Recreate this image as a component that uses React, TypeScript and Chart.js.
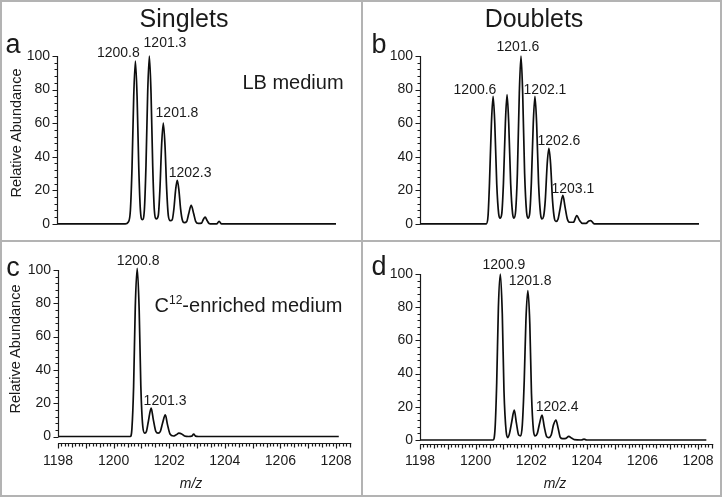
import React, { useEffect, useRef } from 'react';
import { Chart, registerables } from 'chart.js';

Chart.register(...registerables);

const FONT = "'Liberation Sans', Arial, Helvetica, sans-serif";

// ---------- data (m/z, relative abundance) ----------
// a: Singlets, LB medium
const aMz = [1198.0, 1200.45, 1200.55, 1200.63, 1200.69, 1200.75, 1200.81, 1200.87, 1200.93, 1200.99, 1201.06, 1201.13, 1201.19, 1201.25, 1201.31, 1201.37, 1201.43, 1201.49, 1201.56, 1201.63, 1201.69, 1201.75, 1201.81, 1201.87, 1201.93, 1201.99, 1202.06, 1202.13, 1202.19, 1202.25, 1202.31, 1202.37, 1202.43, 1202.49, 1202.56, 1202.65, 1202.72, 1202.81, 1202.9, 1202.97, 1203.06, 1203.18, 1203.24, 1203.31, 1203.38, 1203.45, 1203.55, 1203.72, 1203.81, 1203.9, 1208.0];
const aAb = [0, 0, 1, 8, 34, 76, 97, 76, 34, 8, 2.5, 8, 35, 78, 100, 78, 35, 8, 3, 5, 21, 47, 60, 47, 21, 5, 2, 2.5, 9, 20, 26, 20, 9, 2.5, 0.8, 1.5, 6, 11, 6, 1.5, 0.3, 0.5, 2.5, 4, 2, 0.3, 0, 0, 1.5, 0, 0];

// b: Doublets, LB medium
const bMz = [1198.0, 1200.38, 1200.44, 1200.49, 1200.56, 1200.62, 1200.68, 1200.75, 1200.82, 1200.87, 1200.93, 1200.99, 1201.06, 1201.12, 1201.18, 1201.25, 1201.32, 1201.37, 1201.43, 1201.49, 1201.56, 1201.62, 1201.68, 1201.75, 1201.82, 1201.87, 1201.93, 1201.99, 1202.06, 1202.12, 1202.18, 1202.25, 1202.32, 1202.37, 1202.43, 1202.49, 1202.56, 1202.62, 1202.68, 1202.75, 1202.82, 1202.87, 1202.95, 1203.02, 1203.12, 1203.2, 1203.28, 1203.37, 1203.5, 1203.62, 1203.72, 1203.82, 1203.95, 1204.05, 1204.12, 1204.22, 1204.3, 1208.0];
const bAb = [0, 0, 5, 24, 60, 76, 60, 24, 6, 3.5, 6, 24, 60, 77, 60, 24, 6, 3.5, 8, 30, 78, 100, 78, 30, 7, 3.5, 6, 24, 60, 76, 60, 24, 6, 3, 4.5, 14, 36, 45, 36, 14, 3, 1.5, 3, 9, 17, 10, 3, 1, 1, 5, 2, 0.3, 0.3, 1.8, 2, 0.3, 0, 0];

// c: Singlets, C12-enriched medium
const cMz = [1198.0, 1200.6, 1200.66, 1200.72, 1200.78, 1200.85, 1200.92, 1200.98, 1201.05, 1201.12, 1201.18, 1201.25, 1201.35, 1201.43, 1201.52, 1201.6, 1201.68, 1201.76, 1201.86, 1201.94, 1202.03, 1202.15, 1202.25, 1202.35, 1202.45, 1202.55, 1202.7, 1202.82, 1202.88, 1202.95, 1203.05, 1208.1];
const cAb = [0, 0, 5, 30, 78, 101, 76, 30, 6, 2, 3, 9, 17, 10, 3, 2, 3, 8, 13, 7, 1.5, 0.3, 1, 2, 1.5, 0.3, 0, 0.3, 1.5, 0.2, 0, 0];

// d: Doublets, C12-enriched medium
const dMz = [1198.0, 1200.63, 1200.7, 1200.76, 1200.82, 1200.89, 1200.96, 1201.02, 1201.1, 1201.16, 1201.22, 1201.3, 1201.39, 1201.47, 1201.55, 1201.62, 1201.68, 1201.75, 1201.81, 1201.88, 1201.95, 1202.01, 1202.08, 1202.14, 1202.22, 1202.3, 1202.39, 1202.47, 1202.56, 1202.63, 1202.72, 1202.8, 1202.89, 1202.97, 1203.05, 1203.13, 1203.25, 1203.35, 1203.45, 1203.55, 1203.8, 1203.9, 1204.0, 1208.3];
const dAb = [0, 0, 7, 35, 80, 100, 76, 30, 5, 1.5, 4, 11, 18, 10, 3, 2.5, 9, 36, 72, 90, 70, 28, 6, 2.5, 4, 10, 15, 8, 2, 1.5, 3, 9, 12, 7, 1.5, 0.8, 1, 2.2, 1.2, 0.2, 0, 0.5, 0, 0];

// ticks
const yTickValues = [0, 20, 40, 60, 80, 100];
const xTickValues = [1198, 1200, 1202, 1204, 1206, 1208];

// peak annotations (text, anchor m/z, anchor abundance)
const aLabelText = ['1200.8', '1201.3', '1201.8', '1202.3'];
const aLabelMz = [1200.2, 1201.87, 1202.3, 1202.77];
const aLabelAb = [101.8, 107.7, 66.1, 30.4];

const bLabelText = ['1200.6', '1201.6', '1202.1', '1202.6', '1203.1'];
const bLabelMz = [1199.97, 1201.51, 1202.48, 1202.98, 1203.48];
const bLabelAb = [79.9, 105.3, 79.9, 49.1, 20.7];

const cLabelText = ['1200.8', '1201.3'];
const cLabelMz = [1200.88, 1201.85];
const cLabelAb = [105.4, 21.3];

const dLabelText = ['1200.9', '1201.8', '1202.4'];
const dLabelMz = [1201.02, 1201.96, 1202.93];
const dLabelAb = [105.4, 95.8, 19.9];

// ---------- plugin: axes with minor ticks + peak labels ----------
const decorPlugin = {
  id: 'msDecor',
  afterDatasetsDraw(chart: any, _args: any, opts: any) {
    const { ctx, chartArea } = chart;
    const xs = chart.scales.x;
    const ys = chart.scales.y;
    ctx.save();
    ctx.strokeStyle = '#1a1a1a';
    ctx.lineWidth = 1.2;
    const ax = Math.round(chartArea.left) + 0.5;
    ctx.beginPath();
    ctx.moveTo(ax, ys.getPixelForValue(0));
    ctx.lineTo(ax, ys.getPixelForValue(100));
    for (let v = 0; v <= 100; v += 4) {
      const p = Math.round(ys.getPixelForValue(v)) + 0.5;
      const len = v % 20 === 0 ? 5 : 3;
      ctx.moveTo(ax - len, p);
      ctx.lineTo(ax, p);
    }
    ctx.stroke();
    if (opts.xAxis) {
      const by = Math.round(chartArea.bottom) + 0.5;
      ctx.beginPath();
      ctx.moveTo(xs.getPixelForValue(xs.min), by);
      ctx.lineTo(xs.getPixelForValue(xs.max), by);
      for (let k = 0; xs.min + k * 0.125 <= xs.max + 1e-9; k++) {
        const p = Math.round(xs.getPixelForValue(xs.min + k * 0.125)) + 0.5;
        const len = k % 8 === 0 ? 5 : k % 4 === 0 ? 4 : 3;
        ctx.moveTo(p, by);
        ctx.lineTo(p, by + len);
      }
      ctx.stroke();
    }
    ctx.fillStyle = '#1a1a1a';
    ctx.font = `14px ${FONT}`;
    ctx.textAlign = 'center';
    ctx.textBaseline = 'middle';
    const t: string[] = opts.labelText;
    t.forEach((s, i) => {
      ctx.fillText(s, xs.getPixelForValue(opts.labelMz[i]), ys.getPixelForValue(opts.labelAb[i]));
    });
    ctx.restore();
  },
};

type PanelCfg = {
  left: number; top: number; w: number; h: number;
  mz: number[]; ab: number[];
  labelText: string[]; labelMz: number[]; labelAb: number[];
  xAxis: boolean; xMax: number; yMin: number;
  yW: number; xH: number; padTop: number; padRight: number; padBottom: number; xPad: number;
};

const panels: PanelCfg[] = [
  { left: 0, top: 0, w: 362, h: 241, mz: aMz, ab: aAb, labelText: aLabelText, labelMz: aLabelMz, labelAb: aLabelAb,
    xAxis: false, xMax: 1208.5, yMin: -1, yW: 57, xH: 0, padTop: 56, padRight: 12.05, padBottom: 15.32, xPad: 0 },
  { left: 362, top: 0, w: 361, h: 241, mz: bMz, ab: bAb, labelText: bLabelText, labelMz: bLabelMz, labelAb: bLabelAb,
    xAxis: false, xMax: 1208.5, yMin: -1, yW: 58, xH: 0, padTop: 56, padRight: 10.05, padBottom: 14.31, xPad: 0 },
  { left: 0, top: 241, w: 362, h: 256, mz: cMz, ab: cAb, labelText: cLabelText, labelMz: cLabelMz, labelAb: cLabelAb,
    xAxis: true, xMax: 1208.55, yMin: -3.9, yW: 58, xH: 54, padTop: 29, padRight: 10.71, padBottom: 0, xPad: 9.6 },
  { left: 362, top: 241, w: 361, h: 256, mz: dMz, ab: dAb, labelText: dLabelText, labelMz: dLabelMz, labelAb: dLabelAb,
    xAxis: true, xMax: 1208.55, yMin: -2.4, yW: 58, xH: 53, padTop: 33, padRight: 9.71, padBottom: 0, xPad: 8.6 },
];

function Panel({ cfg }: { cfg: PanelCfg }) {
  const ref = useRef<HTMLCanvasElement>(null);
  useEffect(() => {
    const pts = cfg.mz.map((x, i) => ({ x, y: cfg.ab[i] }));
    const tickFont = { size: 14, family: FONT };
    const chart = new Chart(ref.current as HTMLCanvasElement, {
      type: 'line',
      data: {
        datasets: [{
          data: pts,
          borderColor: '#0d0d0d',
          borderWidth: 1.7,
          pointRadius: 0,
          cubicInterpolationMode: 'monotone',
          fill: false,
          clip: false,
        } as any],
      },
      options: {
        animation: false,
        responsive: false,
        devicePixelRatio: 1,
        events: [],
        parsing: false as any,
        layout: { padding: { top: cfg.padTop, right: cfg.padRight, bottom: cfg.padBottom, left: 0 }, autoPadding: false } as any,
        plugins: {
          legend: { display: false },
          tooltip: { enabled: false },
          msDecor: { xAxis: cfg.xAxis, labelText: cfg.labelText, labelMz: cfg.labelMz, labelAb: cfg.labelAb },
        } as any,
        scales: {
          x: {
            type: 'linear',
            min: 1198,
            max: cfg.xMax,
            display: cfg.xAxis,
            grid: { display: false, drawTicks: false },
            border: { display: false },
            afterBuildTicks: (s: any) => { s.ticks = xTickValues.map((v) => ({ value: v })); },
            afterFit: (s: any) => { s.height = cfg.xH; },
            ticks: { font: tickFont, color: '#1a1a1a', padding: cfg.xPad, maxRotation: 0, autoSkip: false, callback: (v: any) => String(v) },
          },
          y: {
            type: 'linear',
            min: cfg.yMin,
            max: 100,
            grid: { display: false, drawTicks: false },
            border: { display: false },
            afterBuildTicks: (s: any) => { s.ticks = yTickValues.map((v) => ({ value: v })); },
            afterFit: (s: any) => { s.width = cfg.yW; },
            ticks: { font: tickFont, color: '#1a1a1a', padding: 7, callback: (v: any) => String(v) },
          },
        },
      } as any,
      plugins: [decorPlugin as any],
    });
    return () => chart.destroy();
  }, [cfg]);
  return (
    <canvas
      ref={ref}
      width={cfg.w}
      height={cfg.h}
      style={{ position: 'absolute', left: cfg.left, top: cfg.top, width: cfg.w, height: cfg.h, display: 'block' }}
    />
  );
}

function Text({ x, y, size, children, rotate, italic }: { x: number; y: number; size: number; children: React.ReactNode; rotate?: boolean; italic?: boolean }) {
  return (
    <div
      style={{
        position: 'absolute',
        left: x,
        top: y,
        transform: `translate(-50%, -50%)${rotate ? ' rotate(-90deg)' : ''}`,
        fontSize: size,
        lineHeight: 1,
        fontFamily: FONT,
        fontStyle: italic ? 'italic' : 'normal',
        color: '#1a1a1a',
        whiteSpace: 'nowrap',
      }}
    >
      {children}
    </div>
  );
}

const BORDER = '#b3b3b3';

export default function App() {
  return (
    <div style={{ position: 'absolute', left: 0, top: 0, width: 723, height: 497, background: '#fff', overflow: 'hidden' }}>
      {panels.map((p, i) => <Panel key={i} cfg={p} />)}
      <Text x={184} y={17.5} size={25}>Singlets</Text>
      <Text x={534} y={17.5} size={25}>Doublets</Text>
      <Text x={13} y={43.6} size={27}>a</Text>
      <Text x={379} y={43.6} size={27}>b</Text>
      <Text x={13} y={266.6} size={27}>c</Text>
      <Text x={379} y={265.6} size={27}>d</Text>
      <Text x={16} y={133} size={14.5} rotate>Relative Abundance</Text>
      <Text x={15} y={349} size={14.5} rotate>Relative Abundance</Text>
      <Text x={293} y={81.7} size={20}>LB medium</Text>
      <Text x={248.5} y={305} size={20}>
        C<span style={{ fontSize: 12, position: 'relative', top: -8 }}>12</span>-enriched medium
      </Text>
      <Text x={191} y={483} size={14} italic>m/z</Text>
      <Text x={555} y={483} size={14} italic>m/z</Text>
      <div style={{ position: 'absolute', left: 0, top: 0, width: 722, height: 497, boxSizing: 'border-box', border: `2px solid ${BORDER}` }} />
      <div style={{ position: 'absolute', left: 361, top: 0, width: 2, height: 497, background: BORDER }} />
      <div style={{ position: 'absolute', left: 0, top: 240, width: 722, height: 2, background: BORDER }} />
    </div>
  );
}
